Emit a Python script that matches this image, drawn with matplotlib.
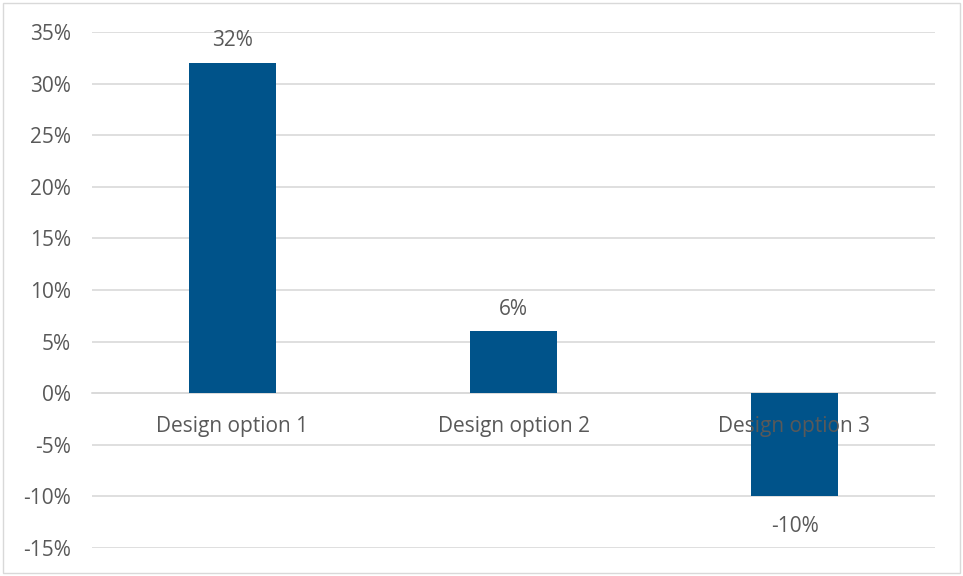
import matplotlib.pyplot as plt
from matplotlib.patches import Rectangle

categories = ["Design option 1", "Design option 2", "Design option 3"]
values = [32, 6, -10]
y_ticks = [-15, -10, -5, 0, 5, 10, 15, 20, 25, 30, 35]

plt.rcParams['font.family'] = ['Open Sans', 'DejaVu Sans']
text_col = '#595959'
bar_col = '#00538a'
fs = 15

fig = plt.figure(figsize=(9.63, 5.76), dpi=100)
ax = fig.add_axes([92/963, 1 - 548/576, (935-92)/963, (548-32)/576])

x = range(len(categories))
ax.bar(x, values, width=0.31, color=bar_col, zorder=3)

# data labels above / below the bars
for i, v in enumerate(values):
    off = 16 if v >= 0 else -22
    ax.annotate(f"{v}%", (i, v), xytext=(0, off), textcoords='offset points',
                ha='center', va='center', fontsize=fs, color=text_col)

ax.set_xlim(-0.5, len(categories) - 0.5)
ax.set_ylim(-15, 35)
ax.set_yticks(y_ticks)
ax.set_yticklabels([f"{t}%" for t in y_ticks], fontsize=fs, color=text_col)
ax.grid(axis='y', color='#d9d9d9', linewidth=1.2, zorder=0)

ax.spines['bottom'].set_position(('data', 0))
ax.spines['bottom'].set_color('#d9d9d9')
ax.spines['bottom'].set_linewidth(1.2)
for s in ['top', 'right', 'left']:
    ax.spines[s].set_visible(False)

ax.set_xticks(list(x))
ax.set_xticklabels(categories, fontsize=fs, color=text_col)
ax.tick_params(axis='x', length=0, pad=16.5)
ax.tick_params(axis='y', length=0, pad=15)
ax.xaxis.set_zorder(5)

fig.patches.append(Rectangle((3/963, 3/576), 957/963, 570/576, transform=fig.transFigure,
                             fill=False, edgecolor='#d9d9d9', linewidth=1))

fig.savefig('out.png', dpi=100)
